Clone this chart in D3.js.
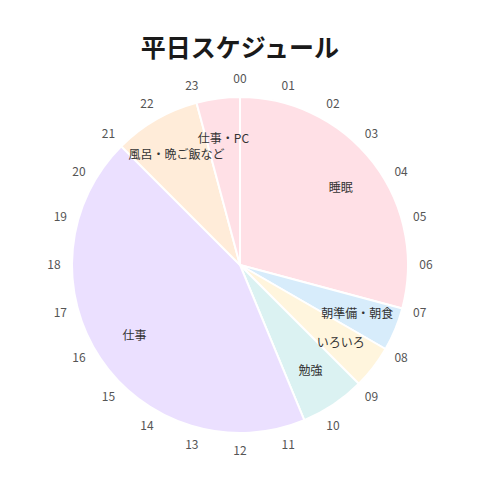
<!DOCTYPE html>
<html>
<head>
<meta charset="utf-8">
<script src="https://cdn.jsdelivr.net/npm/d3@7"></script>
<style>
  body { margin: 0; background: #fff; }
  svg { display: block; font-family: "Noto Sans CJK JP", "Noto Sans", sans-serif; }
</style>
</head>
<body>
<svg id="chart" width="480" height="480"></svg>
<script>
// 平日の予定 (時間)
var activities = ["睡眠", "朝準備・朝食", "いろいろ", "勉強", "仕事", "風呂・晩ご飯など", "仕事・PC"];
var hours = [7, 1, 1, 1.5, 10.5, 2, 1];
var colors = ["#ffe0e6", "#d7ecfb", "#fff5dd", "#dbf2f2", "#ebe0ff", "#ffecd9", "#ffe0e6"];
var hourLabels = d3.range(24).map(function (h) { return (h < 10 ? "0" : "") + h; });

var width = 480, cx = 240, cy = 265, radius = 168;

var svg = d3.select("#chart");

svg.append("text")
    .attr("x", width / 2)
    .attr("y", 57)
    .attr("text-anchor", "middle")
    .style("font-size", "25px")
    .style("font-weight", "bold")
    .style("fill", "#1a1a1a")
    .text("平日スケジュール");

var g = svg.append("g").attr("transform", "translate(" + cx + "," + cy + ")");

var pie = d3.pie().sort(null).value(function (d) { return d; });
var arcs = pie(hours);

var arc = d3.arc().innerRadius(0).outerRadius(radius);
var labelArc = d3.arc().innerRadius(127).outerRadius(127);

g.selectAll("path")
    .data(arcs)
    .enter().append("path")
    .attr("d", arc)
    .style("fill", function (d, i) { return colors[i]; })
    .style("stroke", "#fff")
    .style("stroke-width", 2);

g.selectAll("text.slice")
    .data(arcs)
    .enter().append("text")
    .attr("class", "slice")
    .attr("transform", function (d) { return "translate(" + labelArc.centroid(d) + ")"; })
    .attr("text-anchor", "middle")
    .attr("dy", "0.35em")
    .style("font-size", "12px")
    .style("fill", "#333")
    .text(function (d, i) { return activities[i]; });

/* 時計の目盛り */
var hourScale = d3.scaleLinear().domain([0, 24]).range([0, 2 * Math.PI]);
g.selectAll("text.hour")
    .data(hourLabels)
    .enter().append("text")
    .attr("class", "hour")
    .attr("x", function (d, i) { return 186 * Math.sin(hourScale(i)); })
    .attr("y", function (d, i) { return -186 * Math.cos(hourScale(i)); })
    .attr("text-anchor", "middle")
    .attr("dy", "0.35em")
    .style("font-size", "12px")
    .style("fill", "#555")
    .text(function (d) { return d; });
</script>
</body>
</html>
